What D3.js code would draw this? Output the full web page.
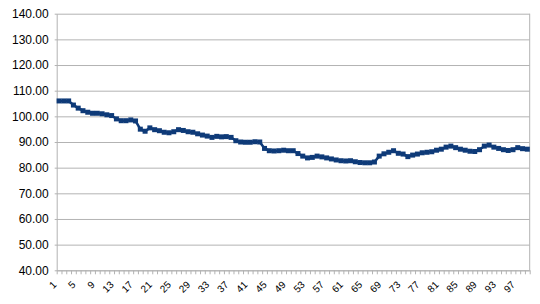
<!DOCTYPE html>
<html>
<head>
<meta charset="utf-8">
<script src="https://cdn.jsdelivr.net/npm/d3@7/dist/d3.min.js"></script>
<style>
  html, body { margin: 0; padding: 0; background: #ffffff; }
  svg { display: block; font-family: "Liberation Sans", Arial, sans-serif; }
</style>
</head>
<body>
<svg id="chart" width="540" height="304"></svg>
<script>
// ---- data ----
const categories = d3.range(1, 100);
const values = [
  106.0, 106.0, 106.0, 104.4, 103.2, 102.2, 101.6, 101.2, 101.2, 101.0,
  100.6, 100.3, 99.0, 98.3, 98.3, 98.6, 98.2, 95.0, 94.2, 95.5,
  94.8, 94.4, 93.8, 93.6, 94.0, 94.8, 94.5, 94.0, 93.8, 93.2,
  92.7, 92.3, 91.8, 92.2, 92.0, 92.1, 91.8, 90.5, 90.0, 89.9,
  89.9, 90.1, 90.0, 87.5, 86.6, 86.5, 86.6, 86.8, 86.6, 86.6,
  85.5, 84.5, 83.8, 84.0, 84.5, 84.2, 83.8, 83.4, 83.0, 82.7,
  82.6, 82.7, 82.3, 82.0, 81.9, 81.9, 82.2, 84.5, 85.4, 86.0,
  86.6, 85.6, 85.3, 84.3, 84.9, 85.3, 85.8, 86.0, 86.2, 86.8,
  87.2, 88.0, 88.4, 87.8, 87.2, 86.8, 86.4, 86.3, 87.0, 88.4,
  88.8, 88.0, 87.5, 87.0, 86.7, 87.0, 87.8, 87.4, 87.2
];
const yTicks = [40, 50, 60, 70, 80, 90, 100, 110, 120, 130, 140];
const xLabelEvery = 4;

// ---- layout ----
const svg = d3.select("#chart");
const mLeft = 56.7, mRight = 529.7, mTop = 13.7, mBottom = 270.3;
const W = mRight - mLeft;

const x = d3.scaleBand().domain(categories).range([mLeft, mRight]).padding(0);
const y = d3.scaleLinear().domain([40, 140]).range([mBottom, mTop]);
const xb = d3.scaleLinear().domain([0, categories.length]).range([mLeft, mRight]);

const gridColor = "#b3b3b3";

// y axis with gridlines
const gy = svg.append("g")
  .attr("transform", `translate(${mLeft},0)`)
  .call(d3.axisLeft(y).tickValues(yTicks).tickFormat(d3.format(".2f"))
        .tickSizeInner(-W).tickSizeOuter(0).tickPadding(8));
gy.select(".domain").attr("stroke", gridColor);
gy.selectAll(".tick line").attr("stroke", gridColor).attr("x1", -2);
gy.selectAll(".tick text").attr("font-size", 12).attr("fill", "#000");

// right border
svg.append("line")
  .attr("x1", mRight).attr("x2", mRight).attr("y1", mTop).attr("y2", mBottom)
  .attr("stroke", gridColor);

// x axis boundary ticks
const gxt = svg.append("g")
  .attr("transform", `translate(0,${mBottom})`)
  .call(d3.axisBottom(xb).tickValues(d3.range(0, categories.length + 1))
        .tickFormat("").tickSizeInner(4).tickSizeOuter(0));
gxt.select(".domain").attr("stroke", gridColor);
gxt.selectAll(".tick line").attr("stroke", gridColor);

// x labels
const gx = svg.append("g")
  .attr("transform", `translate(0,${mBottom})`)
  .call(d3.axisBottom(x)
        .tickValues(categories.filter((d, i) => i % xLabelEvery === 0))
        .tickSize(0).tickPadding(0));
gx.select(".domain").remove();
gx.selectAll(".tick text")
  .attr("font-size", 10)
  .attr("fill", "#000")
  .attr("text-anchor", "end")
  .attr("y", 0)
  .attr("dy", 0)
  .attr("transform", "translate(-2,15) rotate(-45)");

// series line
const color = "#0e3a78";
const line = d3.line()
  .x((d, i) => x(categories[i]) + x.bandwidth() / 2)
  .y(d => y(d));
svg.append("path")
  .datum(values)
  .attr("fill", "none")
  .attr("stroke", color)
  .attr("stroke-width", 2.5)
  .attr("d", line);

const ms = 5;
svg.append("g").selectAll("rect")
  .data(values)
  .join("rect")
  .attr("x", (d, i) => x(categories[i]) + x.bandwidth() / 2 - ms / 2)
  .attr("y", d => y(d) - ms / 2)
  .attr("width", ms)
  .attr("height", ms)
  .attr("fill", color);
</script>
</body>
</html>
